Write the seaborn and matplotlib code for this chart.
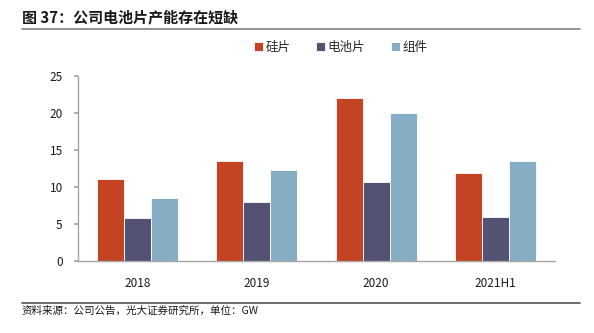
import matplotlib
matplotlib.use("Agg")
import matplotlib.pyplot as plt
import seaborn as sns
import pandas as pd
from matplotlib.lines import Line2D

categories = ["2018", "2019", "2020", "2021H1"]
series = ["硅片", "电池片", "组件"]
silicon = [11.1, 13.5, 22.0, 11.9]
cell = [5.85, 8.05, 10.65, 5.95]
module = [8.55, 12.3, 19.95, 13.5]
colors = ["#C44322", "#535272", "#85ADC3"]
yticks = [0, 5, 10, 15, 20, 25]

title = "图 37：公司电池片产能存在短缺"
source = "资料来源：公司公告，光大证券研究所，单位：GW"

rows = []
for name, vals in zip(series, [silicon, cell, module]):
    for c, v in zip(categories, vals):
        rows.append({"year": c, "series": name, "value": v})
df = pd.DataFrame(rows)

sns.set_theme(style="white")
plt.rcParams["font.family"] = ["Noto Sans CJK SC", "DejaVu Sans"]

fig = plt.figure(figsize=(5.94, 3.33), dpi=100)
ax = fig.add_axes([78/594, 1-261.3/333, 477/594, (261.3-76)/333])

sns.barplot(data=df, x="year", y="value", hue="series", order=categories,
            hue_order=series, palette=colors, width=0.68, ax=ax,
            edgecolor="white", linewidth=0.6, saturation=1, legend=True)

ax.set_ylim(0, 25)
ax.set_yticks(yticks)
ax.set_xlim(-0.5, len(categories) - 0.5)
ax.set_xlabel("")
ax.set_ylabel("")
for s in ["top", "right"]:
    ax.spines[s].set_visible(False)
for s in ["left", "bottom"]:
    ax.spines[s].set_color("#A6A6A6")
    ax.spines[s].set_linewidth(1.0)
ax.tick_params(axis="y", left=True, length=3, color="#A6A6A6", labelsize=8.5, pad=8, labelcolor="#1a1a1a")
ax.tick_params(axis="x", bottom=False, labelsize=8.5, pad=5, labelcolor="#1a1a1a")

leg = ax.legend(loc="lower center", bbox_to_anchor=(0.551, 1.06), ncol=3, frameon=False,
                fontsize=9, handlelength=0.7, handleheight=0.7, handletextpad=0.2,
                columnspacing=2.1)

fig.text(22/594, 1-17/333, title, fontsize=10.8, fontweight="bold", va="center", ha="left", color="#1a1a1a")
fig.add_artist(Line2D([22/594, 580/594], [1-29/333, 1-29/333], color="#808080", linewidth=1.2))
fig.add_artist(Line2D([22/594, 580/594], [1-302.5/333, 1-302.5/333], color="#555555", linewidth=1.2))
fig.text(22/594, 1-310.5/333, source, fontsize=7.6, va="center", ha="left", color="#1a1a1a")

fig.savefig("out.png", dpi=100)
